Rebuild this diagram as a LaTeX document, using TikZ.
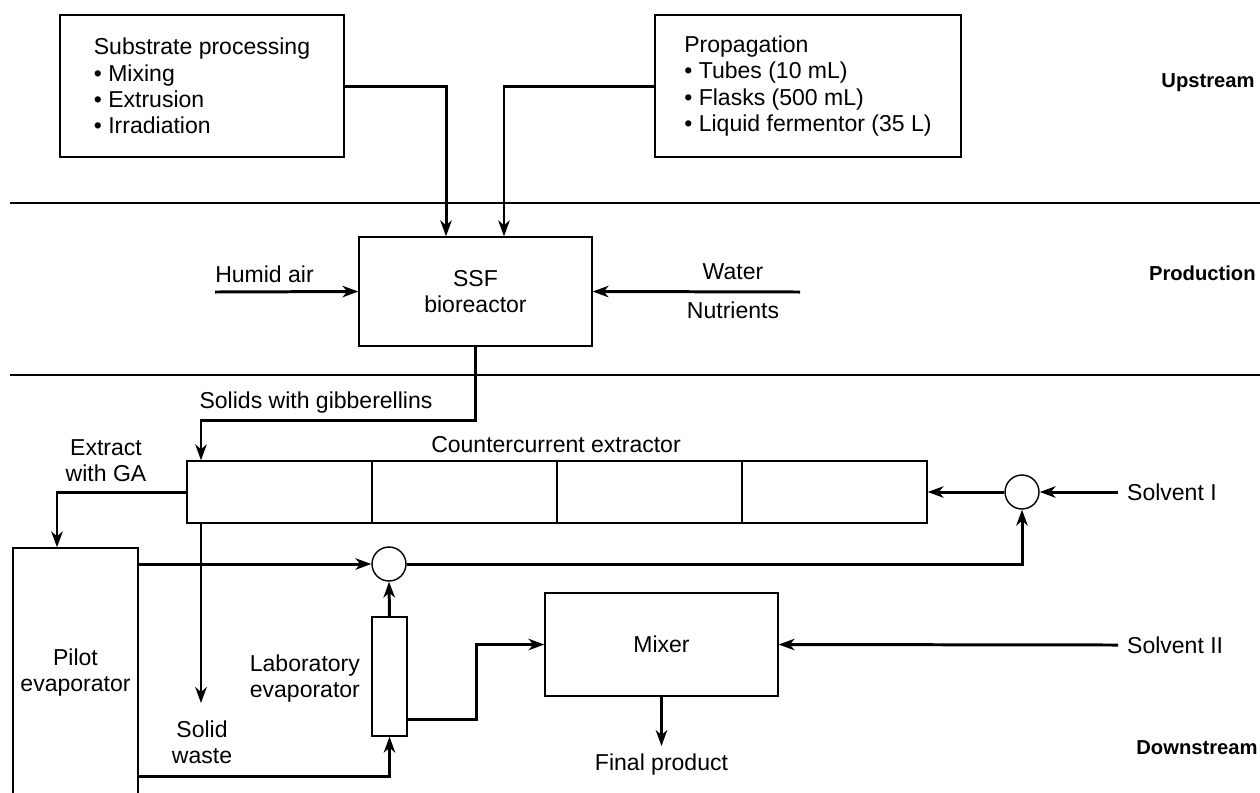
\documentclass[tikz,border=0pt]{standalone}
\usepackage{fontspec}
\setmainfont{Liberation Sans}
\usetikzlibrary{positioning,arrows.meta}

\begin{document}
\begin{tikzpicture}[
  x=0.02cm,y=-0.02cm,
  font=\fontsize{13.1}{15}\selectfont,
  box/.style={draw,line width=0.8pt,inner sep=0pt},
  lst/.style={box,align=left,minimum height=2.84cm},
  cell/.style={box,minimum width=3.7cm,minimum height=1.24cm},
  junc/.style={circle,draw,line width=0.8pt,minimum size=0.68cm,inner sep=0pt},
  flow/.style={line width=1.7pt,-{Stealth[length=9pt,width=6.5pt,inset=2.7pt]}},
  divider/.style={line width=0.8pt},
  lbl/.style={inner sep=1pt},
  stage/.style={font=\fontsize{11.5}{14}\selectfont\bfseries,anchor=east,inner sep=0pt}
]
\useasboundingbox (0,0) rectangle (1260,792);
% stage dividers and names
\draw[divider] (10,203) -- (1260,203);
\draw[divider] (10,375) -- (1260,375);
\node[stage] (up)   at (1255,83)  {Upstream};
\node[stage] (prod) at (1256,273) {Production};
\node[stage] (down) at (1258,748) {Downstream};
% upstream
\node[lst,minimum width=5.68cm] (sub) at (202,86)
  {Substrate processing\\\textbullet\ Mixing\\\textbullet\ Extrusion\\\textbullet\ Irradiation};
\node[lst,minimum width=6.12cm] (prop) at (808,86)
  {Propagation\\\textbullet\ Tubes (10 mL)\\\textbullet\ Flasks (500 mL)\\\textbullet\ Liquid fermentor (35 L)};
% production
\node[box,minimum width=4.66cm,minimum height=2.18cm,align=center] (ssf) at (475.5,291.5) {SSF\\bioreactor};
\coordinate (air) at (215,292);
\coordinate (wat) at (800,292);
\node[lbl] (airlbl) at (264.5,274) {Humid air};
\node[lbl] (watlbl) at (733,272) {Water};
\node[lbl] (nutlbl) at (733,310) {Nutrients};
% downstream
\foreach \i/\x in {1/279.5,2/464.5,3/649.5,4/834.5}
  \node[cell] (c\i) at (\x,492) {};
\node[lbl] (extlbl) at (556,445) {Countercurrent extractor};
\node[box,minimum width=2.5cm,minimum height=4.98cm,align=center] (pilot) at (75.5,672.5) {Pilot\\evaporator};
\node[junc] (m1) at (389,564) {};
\node[junc] (m2) at (1022,492) {};
\node[box,minimum width=0.7cm,minimum height=2.38cm] (lab) at (389.5,676.5) {};
\node[lbl,align=right,anchor=east] (lablbl) at (362,678.5) {Laboratory\\evaporator};
\node[box,minimum width=4.66cm,minimum height=2.06cm] (mix) at (661.5,644.5) {Mixer};
\coordinate (sol) at (201,420);
\coordinate (waste) at (201,703);
\coordinate (sv1) at (1118,492);
\coordinate (sv2) at (1118,645);
\coordinate (fin) at (661.5,746);
\node[lbl] (sollbl) at (316,403) {Solids with gibberellins};
\node[lbl,align=center] (galbl) at (106,461) {Extract\\with GA};
\node[lbl,align=center] (wastelbl) at (202,742.5) {Solid\\waste};
\node[lbl,right=4pt of sv1] (sv1lbl) {Solvent I};
\node[lbl,right=4pt of sv2] (sv2lbl) {Solvent II};
\node[lbl,below=3pt of fin] (finlbl) {Final product};
% streams
\draw[flow] (sub.east) -| ([xshift=-0.59cm]ssf.north);
\draw[flow] (prop.west) -| ([xshift=0.57cm]ssf.north);
\draw[flow] (air) -- (ssf.west);
\draw[flow] (wat) -- (ssf.east);
\draw[flow] (ssf.south) |- (sol) -- (sol |- c1.north);
\draw[flow] (c1.west) -| ([xshift=-0.37cm]pilot.north);
\draw[flow] (sol |- c1.south) -- (waste);
\draw[flow] (m1 -| pilot.east) -- (m1.west);
\draw[flow] (m1.east) -| (m2.south);
\draw[flow] (sv1) -- (m2.east);
\draw[flow] (m2.west) -- (c4.east);
\draw[flow] (lab.north) -- (m1.south);
\draw[flow] ([yshift=-2.08cm]pilot.east) -| (lab.south);
\draw[flow] ([yshift=-0.85cm]lab.east) -- ++(1.38cm,0) |- (mix.west);
\draw[flow] (sv2) -- (mix.east);
\draw[flow] (mix.south) -- (fin);
\end{tikzpicture}
\end{document}
